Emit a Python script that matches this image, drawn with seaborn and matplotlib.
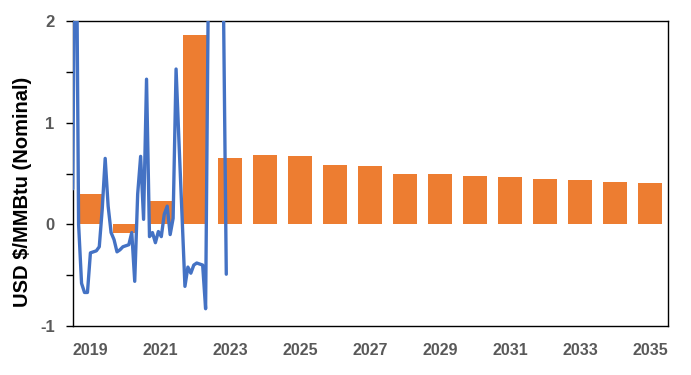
import numpy as np
import pandas as pd
import matplotlib
matplotlib.use("Agg")
import matplotlib.pyplot as plt
import seaborn as sns

# ---- data ----
years = list(range(2019, 2036))
annual_values = [0.30, -0.08, 0.23, 1.87, 0.65, 0.68, 0.67, 0.59, 0.58,
                 0.50, 0.50, 0.48, 0.47, 0.45, 0.44, 0.42, 0.41]

# monthly series starting Jan 2019
monthly_values = [0.35, 4.0, 0.0, -0.58, -0.67, -0.67, -0.28, -0.27, -0.26, -0.22,
                  0.15, 0.65, 0.18, -0.08, -0.15, -0.27, -0.25, -0.22, -0.21, -0.20,
                  -0.08, -0.56, 0.30, 0.67, 0.05, 1.43, -0.12, -0.08, -0.18, -0.07,
                  -0.12, 0.10, 0.18, -0.10, 0.06, 1.53, 0.80, 0.10, -0.61, -0.42,
                  -0.48, -0.40, -0.38, -0.39, -0.40, -0.83, 2.6, 4.5, 5.0, 4.0,
                  3.5, 2.3, -0.49]

xtick_years = list(range(2019, 2036, 2))
y_ticks = [-1, 0, 1, 2]
y_label = "USD $/MMBtu (Nominal)"

bar_df = pd.DataFrame({"year": years, "value": annual_values})
line_df = pd.DataFrame({"pos": 2018.5 + np.arange(len(monthly_values)) / 11.85,
                        "value": monthly_values})

# ---- plot ----
sns.set_theme(style="white")
plt.rcParams["font.family"] = ["Liberation Sans", "DejaVu Sans"]

fig = plt.figure(figsize=(6.91, 3.75), dpi=100)
ax = fig.add_axes([0.1052, 0.1307, 0.8611, 0.8125])

sns.barplot(data=bar_df, x="year", y="value", native_scale=True, width=0.67,
            color="#ED7D31", saturation=1, edgecolor="none", linewidth=0, ax=ax)
sns.lineplot(data=line_df, x="pos", y="value", color="#4472C4", linewidth=2.4,
             ax=ax, zorder=5)

ax.set_xlim(2018.5, 2035.5)
ax.set_ylim(-1, 2)
ax.set_xticks(xtick_years)
ax.set_xticklabels([str(y) for y in xtick_years])
ax.set_yticks(y_ticks)
ax.set_yticklabels([str(v) for v in y_ticks])
ax.set_yticks([-0.5, 0.5, 1.5], minor=True)

ax.tick_params(axis="x", length=0, pad=12, labelsize=11.5, labelcolor="#595959")
ax.tick_params(axis="y", which="both", direction="out", length=5, width=1,
               color="black", left=True, pad=8, labelsize=12, labelcolor="#595959")
for lab in ax.get_xticklabels() + ax.get_yticklabels():
    lab.set_fontweight("bold")

ax.set_xlabel("")
ax.set_ylabel(y_label, fontsize=14.5, fontweight="bold", color="black")
ax.yaxis.set_label_coords(-0.068, 0.44)

for s in ax.spines.values():
    s.set_visible(True)
    s.set_color("black")
    s.set_linewidth(1.0)

fig.savefig("out.png", dpi=100)
